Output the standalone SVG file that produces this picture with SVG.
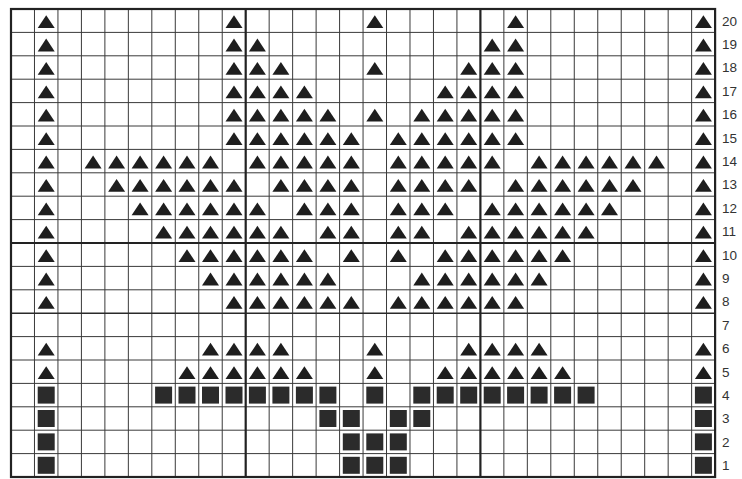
<svg xmlns="http://www.w3.org/2000/svg" xmlns:xlink="http://www.w3.org/1999/xlink" width="742" height="479" viewBox="0 0 742 479">
<style>
.thin{stroke:#3a3a3a;stroke-width:1;fill:none}
.thick{stroke:#222;stroke-width:2.2;fill:none}
.mid{stroke:#2a2a2a;stroke-width:1.6;fill:none}
.lbl{font-family:"Liberation Sans",Arial,sans-serif;font-size:13.5px;fill:#333}
</style>
<defs>
<path id="t" d="M0,-5.5 L8.5,7.3 L-8.5,7.3 Z" fill="#1e1e1e"/>
<rect id="s" x="-8.5" y="-8.5" width="17" height="17" fill="#2b2b2b"/>
</defs>
<rect x="0" y="0" width="742" height="479" fill="#ffffff"/>
<g id="grid">
<path class="thin" d="M34.47,9V477M57.94,9V477M81.41,9V477M104.88,9V477M128.35,9V477M151.82,9V477M175.29,9V477M198.76,9V477M222.23,9V477M269.17,9V477M292.64,9V477M316.11,9V477M339.58,9V477M363.05,9V477M386.52,9V477M409.99,9V477M433.46,9V477M456.93,9V477M503.87,9V477M527.34,9V477M550.81,9V477M574.28,9V477M597.75,9V477M621.22,9V477M644.69,9V477M668.16,9V477M691.63,9V477"/>
<path class="thin" d="M11,32.4H715.1M11,55.8H715.1M11,79.2H715.1M11,102.6H715.1M11,126H715.1M11,149.4H715.1M11,172.8H715.1M11,196.2H715.1M11,219.6H715.1M11,266.4H715.1M11,289.8H715.1M11,336.6H715.1M11,360H715.1M11,383.4H715.1M11,406.8H715.1M11,430.2H715.1M11,453.6H715.1"/>
<path class="mid" d="M11,313.2H715.1"/>
<path class="thick" d="M245.7,9V477M480.4,9V477M11,243H715.1"/>
<rect class="thick" x="11" y="9" width="704.1" height="468"/>
</g>
<g id="row20" transform="translate(0,20.7)"><use href="#t" x="46.2"/><use href="#t" x="234"/><use href="#t" x="374.8"/><use href="#t" x="515.6"/><use href="#t" x="703.4"/></g>
<g id="row19" transform="translate(0,44.1)"><use href="#t" x="46.2"/><use href="#t" x="234"/><use href="#t" x="257.4"/><use href="#t" x="492.2"/><use href="#t" x="515.6"/><use href="#t" x="703.4"/></g>
<g id="row18" transform="translate(0,67.5)"><use href="#t" x="46.2"/><use href="#t" x="234"/><use href="#t" x="257.4"/><use href="#t" x="280.9"/><use href="#t" x="374.8"/><use href="#t" x="468.7"/><use href="#t" x="492.2"/><use href="#t" x="515.6"/><use href="#t" x="703.4"/></g>
<g id="row17" transform="translate(0,90.9)"><use href="#t" x="46.2"/><use href="#t" x="234"/><use href="#t" x="257.4"/><use href="#t" x="280.9"/><use href="#t" x="304.4"/><use href="#t" x="445.2"/><use href="#t" x="468.7"/><use href="#t" x="492.2"/><use href="#t" x="515.6"/><use href="#t" x="703.4"/></g>
<g id="row16" transform="translate(0,114.3)"><use href="#t" x="46.2"/><use href="#t" x="234"/><use href="#t" x="257.4"/><use href="#t" x="280.9"/><use href="#t" x="304.4"/><use href="#t" x="327.9"/><use href="#t" x="374.8"/><use href="#t" x="421.8"/><use href="#t" x="445.2"/><use href="#t" x="468.7"/><use href="#t" x="492.2"/><use href="#t" x="515.6"/><use href="#t" x="703.4"/></g>
<g id="row15" transform="translate(0,137.7)"><use href="#t" x="46.2"/><use href="#t" x="234"/><use href="#t" x="257.4"/><use href="#t" x="280.9"/><use href="#t" x="304.4"/><use href="#t" x="327.9"/><use href="#t" x="351.3"/><use href="#t" x="398.3"/><use href="#t" x="421.8"/><use href="#t" x="445.2"/><use href="#t" x="468.7"/><use href="#t" x="492.2"/><use href="#t" x="515.6"/><use href="#t" x="703.4"/></g>
<g id="row14" transform="translate(0,161.1)"><use href="#t" x="46.2"/><use href="#t" x="93.1"/><use href="#t" x="116.6"/><use href="#t" x="140.1"/><use href="#t" x="163.6"/><use href="#t" x="187"/><use href="#t" x="210.5"/><use href="#t" x="257.4"/><use href="#t" x="280.9"/><use href="#t" x="304.4"/><use href="#t" x="327.9"/><use href="#t" x="351.3"/><use href="#t" x="398.3"/><use href="#t" x="421.8"/><use href="#t" x="445.2"/><use href="#t" x="468.7"/><use href="#t" x="492.2"/><use href="#t" x="539.1"/><use href="#t" x="562.6"/><use href="#t" x="586.1"/><use href="#t" x="609.5"/><use href="#t" x="633"/><use href="#t" x="656.5"/><use href="#t" x="703.4"/></g>
<g id="row13" transform="translate(0,184.5)"><use href="#t" x="46.2"/><use href="#t" x="116.6"/><use href="#t" x="140.1"/><use href="#t" x="163.6"/><use href="#t" x="187"/><use href="#t" x="210.5"/><use href="#t" x="234"/><use href="#t" x="280.9"/><use href="#t" x="304.4"/><use href="#t" x="327.9"/><use href="#t" x="351.3"/><use href="#t" x="398.3"/><use href="#t" x="421.8"/><use href="#t" x="445.2"/><use href="#t" x="468.7"/><use href="#t" x="515.6"/><use href="#t" x="539.1"/><use href="#t" x="562.6"/><use href="#t" x="586.1"/><use href="#t" x="609.5"/><use href="#t" x="633"/><use href="#t" x="703.4"/></g>
<g id="row12" transform="translate(0,207.9)"><use href="#t" x="46.2"/><use href="#t" x="140.1"/><use href="#t" x="163.6"/><use href="#t" x="187"/><use href="#t" x="210.5"/><use href="#t" x="234"/><use href="#t" x="257.4"/><use href="#t" x="304.4"/><use href="#t" x="327.9"/><use href="#t" x="351.3"/><use href="#t" x="398.3"/><use href="#t" x="421.8"/><use href="#t" x="445.2"/><use href="#t" x="492.2"/><use href="#t" x="515.6"/><use href="#t" x="539.1"/><use href="#t" x="562.6"/><use href="#t" x="586.1"/><use href="#t" x="609.5"/><use href="#t" x="703.4"/></g>
<g id="row11" transform="translate(0,231.3)"><use href="#t" x="46.2"/><use href="#t" x="163.6"/><use href="#t" x="187"/><use href="#t" x="210.5"/><use href="#t" x="234"/><use href="#t" x="257.4"/><use href="#t" x="280.9"/><use href="#t" x="327.9"/><use href="#t" x="351.3"/><use href="#t" x="398.3"/><use href="#t" x="421.8"/><use href="#t" x="468.7"/><use href="#t" x="492.2"/><use href="#t" x="515.6"/><use href="#t" x="539.1"/><use href="#t" x="562.6"/><use href="#t" x="586.1"/><use href="#t" x="703.4"/></g>
<g id="row10" transform="translate(0,254.7)"><use href="#t" x="46.2"/><use href="#t" x="187"/><use href="#t" x="210.5"/><use href="#t" x="234"/><use href="#t" x="257.4"/><use href="#t" x="280.9"/><use href="#t" x="304.4"/><use href="#t" x="351.3"/><use href="#t" x="398.3"/><use href="#t" x="445.2"/><use href="#t" x="468.7"/><use href="#t" x="492.2"/><use href="#t" x="515.6"/><use href="#t" x="539.1"/><use href="#t" x="562.6"/><use href="#t" x="703.4"/></g>
<g id="row9" transform="translate(0,278.1)"><use href="#t" x="46.2"/><use href="#t" x="210.5"/><use href="#t" x="234"/><use href="#t" x="257.4"/><use href="#t" x="280.9"/><use href="#t" x="304.4"/><use href="#t" x="327.9"/><use href="#t" x="421.8"/><use href="#t" x="445.2"/><use href="#t" x="468.7"/><use href="#t" x="492.2"/><use href="#t" x="515.6"/><use href="#t" x="539.1"/><use href="#t" x="703.4"/></g>
<g id="row8" transform="translate(0,301.5)"><use href="#t" x="46.2"/><use href="#t" x="234"/><use href="#t" x="257.4"/><use href="#t" x="280.9"/><use href="#t" x="304.4"/><use href="#t" x="327.9"/><use href="#t" x="351.3"/><use href="#t" x="398.3"/><use href="#t" x="421.8"/><use href="#t" x="445.2"/><use href="#t" x="468.7"/><use href="#t" x="492.2"/><use href="#t" x="515.6"/><use href="#t" x="703.4"/></g>
<g id="row6" transform="translate(0,348.3)"><use href="#t" x="46.2"/><use href="#t" x="210.5"/><use href="#t" x="234"/><use href="#t" x="257.4"/><use href="#t" x="280.9"/><use href="#t" x="374.8"/><use href="#t" x="468.7"/><use href="#t" x="492.2"/><use href="#t" x="515.6"/><use href="#t" x="539.1"/><use href="#t" x="703.4"/></g>
<g id="row5" transform="translate(0,371.7)"><use href="#t" x="46.2"/><use href="#t" x="187"/><use href="#t" x="210.5"/><use href="#t" x="234"/><use href="#t" x="257.4"/><use href="#t" x="280.9"/><use href="#t" x="304.4"/><use href="#t" x="374.8"/><use href="#t" x="445.2"/><use href="#t" x="468.7"/><use href="#t" x="492.2"/><use href="#t" x="515.6"/><use href="#t" x="539.1"/><use href="#t" x="562.6"/><use href="#t" x="703.4"/></g>
<g id="row4" transform="translate(0,395.1)"><use href="#s" x="46.2"/><use href="#s" x="163.6"/><use href="#s" x="187"/><use href="#s" x="210.5"/><use href="#s" x="234"/><use href="#s" x="257.4"/><use href="#s" x="280.9"/><use href="#s" x="304.4"/><use href="#s" x="327.9"/><use href="#s" x="374.8"/><use href="#s" x="421.8"/><use href="#s" x="445.2"/><use href="#s" x="468.7"/><use href="#s" x="492.2"/><use href="#s" x="515.6"/><use href="#s" x="539.1"/><use href="#s" x="562.6"/><use href="#s" x="586.1"/><use href="#s" x="703.4"/></g>
<g id="row3" transform="translate(0,418.5)"><use href="#s" x="46.2"/><use href="#s" x="327.9"/><use href="#s" x="351.3"/><use href="#s" x="398.3"/><use href="#s" x="421.8"/><use href="#s" x="703.4"/></g>
<g id="row2" transform="translate(0,441.9)"><use href="#s" x="46.2"/><use href="#s" x="351.3"/><use href="#s" x="374.8"/><use href="#s" x="398.3"/><use href="#s" x="703.4"/></g>
<g id="row1" transform="translate(0,465.3)"><use href="#s" x="46.2"/><use href="#s" x="351.3"/><use href="#s" x="374.8"/><use href="#s" x="398.3"/><use href="#s" x="703.4"/></g>
<g id="labels" class="lbl">
<text x="722" y="25.5">20</text>
<text x="722" y="48.9">19</text>
<text x="722" y="72.3">18</text>
<text x="722" y="95.7">17</text>
<text x="722" y="119.1">16</text>
<text x="722" y="142.5">15</text>
<text x="722" y="165.9">14</text>
<text x="722" y="189.3">13</text>
<text x="722" y="212.7">12</text>
<text x="722" y="236.1">11</text>
<text x="722" y="259.5">10</text>
<text x="722" y="282.9">9</text>
<text x="722" y="306.3">8</text>
<text x="722" y="329.7">7</text>
<text x="722" y="353.1">6</text>
<text x="722" y="376.5">5</text>
<text x="722" y="399.9">4</text>
<text x="722" y="423.3">3</text>
<text x="722" y="446.7">2</text>
<text x="722" y="470.1">1</text>
</g>
</svg>
